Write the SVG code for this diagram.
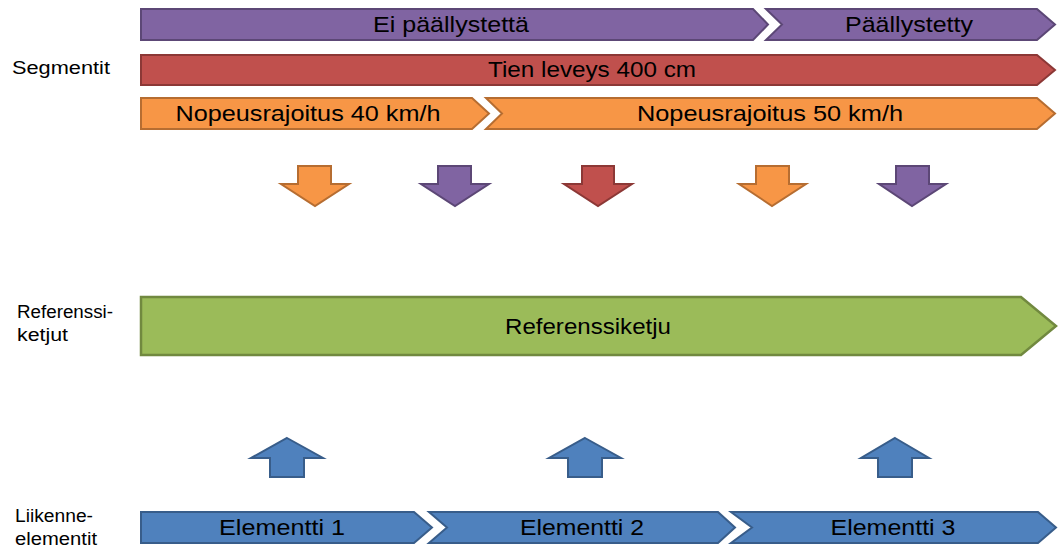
<svg xmlns="http://www.w3.org/2000/svg" width="1058" height="547" viewBox="0 0 1058 547">
<style>
.t{font-family:"Liberation Sans",Arial,sans-serif;font-size:22px;fill:#000;text-anchor:middle}
.l{font-family:"Liberation Sans",Arial,sans-serif;font-size:18px;fill:#000}
.pu{fill:#8064A2;stroke:#5C4776;stroke-width:2}
.re{fill:#C0504D;stroke:#8C3836;stroke-width:2}
.or{fill:#F79646;stroke:#B66D31;stroke-width:2}
.gr{fill:#9BBB59;stroke:#71893F;stroke-width:2.5}
.bl{fill:#4F81BD;stroke:#385D8A;stroke-width:2}
</style>
<rect width="1058" height="547" fill="#fff"/>
<g id="labels">
<text class="l" x="12" y="74" textLength="98" lengthAdjust="spacingAndGlyphs">Segmentit</text>
<text class="l" x="17" y="318" textLength="96" lengthAdjust="spacingAndGlyphs">Referenssi-</text>
<text class="l" x="17" y="341" textLength="51" lengthAdjust="spacingAndGlyphs">ketjut</text>
<text class="l" x="15" y="522" textLength="78" lengthAdjust="spacingAndGlyphs">Liikenne-</text>
<text class="l" x="15" y="545" textLength="82" lengthAdjust="spacingAndGlyphs">elementit</text>
</g>
<g id="seg-ei-paallystetta">
<polygon class="pu" points="141,9 753,9 768,24.5 753,40 141,40"/>
<text class="t" x="451" y="32" textLength="156" lengthAdjust="spacingAndGlyphs">Ei päällystettä</text>
</g>
<g id="seg-paallystetty">
<polygon class="pu" points="766,9 1037,9 1055,24.5 1037,40 766,40 782,24.5"/>
<text class="t" x="909" y="32" textLength="128" lengthAdjust="spacingAndGlyphs">Päällystetty</text>
</g>
<g id="seg-tien-leveys">
<polygon class="re" points="141,55 1037,55 1055,70 1037,85 141,85"/>
<text class="t" x="592" y="77" textLength="208" lengthAdjust="spacingAndGlyphs">Tien leveys 400 cm</text>
</g>
<g id="seg-nopeus-40">
<polygon class="or" points="141,98 472,98 489,113.5 472,129 141,129"/>
<text class="t" x="308" y="121" textLength="265" lengthAdjust="spacingAndGlyphs">Nopeusrajoitus 40 km/h</text>
</g>
<g id="seg-nopeus-50">
<polygon class="or" points="486,98 1037,98 1055,113.5 1037,129 486,129 502,113.5"/>
<text class="t" x="770" y="121" textLength="266" lengthAdjust="spacingAndGlyphs">Nopeusrajoitus 50 km/h</text>
</g>
<g id="referenssiketju">
<polygon class="gr" points="141,297 1021,297 1056,326 1021,355 141,355"/>
<text class="t" x="588" y="334" textLength="166" lengthAdjust="spacingAndGlyphs">Referenssiketju</text>
</g>
<g id="elementti-1">
<polygon class="bl" points="141,512 414,512 432,527.5 414,543 141,543"/>
<text class="t" x="282" y="535" textLength="126" lengthAdjust="spacingAndGlyphs">Elementti 1</text>
</g>
<g id="elementti-2">
<polygon class="bl" points="429,512 718,512 735,527.5 718,543 429,543 447,527.5"/>
<text class="t" x="582" y="535" textLength="124" lengthAdjust="spacingAndGlyphs">Elementti 2</text>
</g>
<g id="elementti-3">
<polygon class="bl" points="731,512 1038,512 1056,527.5 1038,543 731,543 752,527.5"/>
<text class="t" x="893" y="535" textLength="125" lengthAdjust="spacingAndGlyphs">Elementti 3</text>
</g>
<g id="connectors">
<polygon class="or" points="298,166 331,166 331,184 349,184 315,206 281,184 298,184"/>
<polygon class="pu" points="438,166 471,166 471,184 489,184 455,206 421,184 438,184"/>
<polygon class="re" points="582,166 614,166 614,184 632,184 598,206 564,184 582,184"/>
<polygon class="or" points="756,166 789,166 789,184 806,184 772,206 739,184 756,184"/>
<polygon class="pu" points="896,166 929,166 929,184 946,184 912,206 879,184 896,184"/>
<polygon class="bl" points="287,438 323,458 304,458 304,477 270,477 270,458 251,458"/>
<polygon class="bl" points="585,438 621,458 602,458 602,477 568,477 568,458 549,458"/>
<polygon class="bl" points="895,438 929,458 912,458 912,477 878,477 878,458 861,458"/>
</g>
</svg>
